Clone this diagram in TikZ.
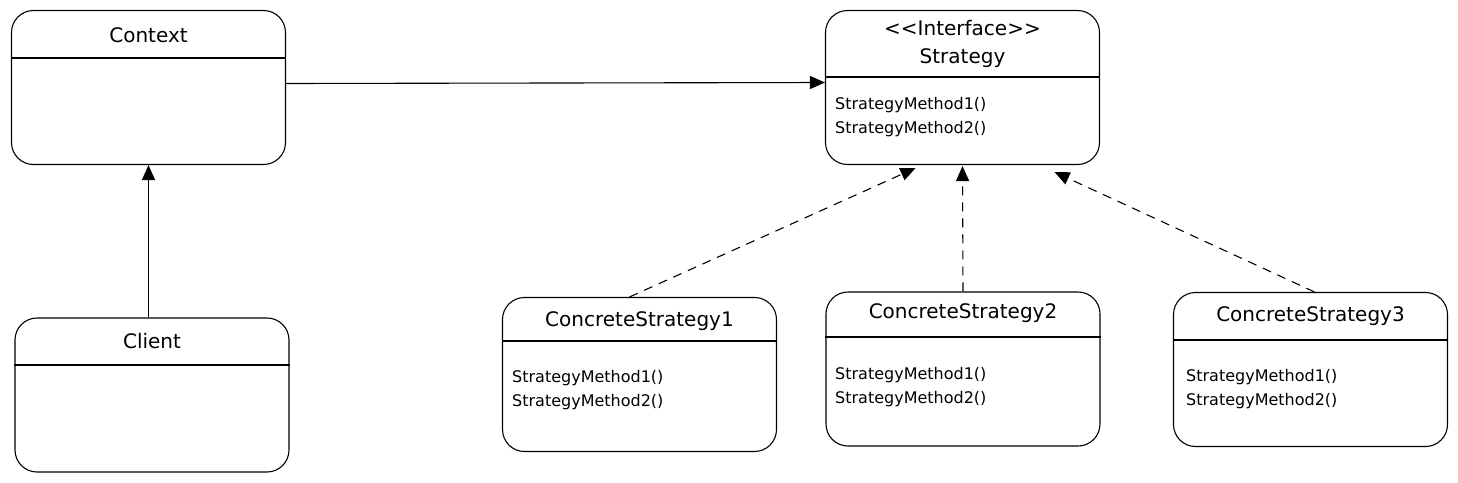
\documentclass[tikz,border=0pt]{standalone}
\usepackage{fontspec}
\setmainfont{DejaVu Sans}
\usetikzlibrary{arrows.meta,positioning}

\tikzset{
  classbox/.style={draw, line width=1.1pt, rounded corners=22pt, inner sep=0pt,
    minimum width=274pt, minimum height=154pt},
  divider/.style={line width=1.1pt},
  classname/.style={font=\fontsize{20}{28}\selectfont, align=center, inner sep=0pt},
  methods/.style={font=\fontsize{16}{24}\selectfont, align=left, inner sep=0pt, anchor=west},
  assoc/.style={line width=1.1pt, -{Triangle[length=15pt,width=13pt]}},
  realize/.style={line width=1.1pt, dash pattern=on 9pt off 7pt, -{Triangle[length=15pt,width=13pt]}}
}

\begin{document}
\begin{tikzpicture}[x=1pt, y=-1pt]
    \useasboundingbox (0,0) rectangle (1458,482);

    % Boxes
    \node[classbox] (ctx) at (148.5,87.5) {};
    \node[classbox] (client) at (152,395) {};
    \node[classbox] (strat) at (962.5,87.5) {};
    \node[classbox] (cs1) at (639.5,374.5) {};
    \node[classbox] (cs2) at (963,369) {};
    \node[classbox] (cs3) at (1310.5,369.5) {};

    % Dividers
    \draw[divider] (ctx.west |- 0,58) -- (ctx.east |- 0,58);
    \draw[divider] (client.west |- 0,365) -- (client.east |- 0,365);
    \draw[divider] (strat.west |- 0,77) -- (strat.east |- 0,77);
    \draw[divider] (cs1.west |- 0,341) -- (cs1.east |- 0,341);
    \draw[divider] (cs2.west |- 0,337) -- (cs2.east |- 0,337);
    \draw[divider] (cs3.west |- 0,340) -- (cs3.east |- 0,340);

    % Names
    \node[classname] (ctxname) at (148.5,35) {Context};
    \node[classname] (clientname) at (152,341) {Client};
    \node[classname] (stratname) at (962.5,44) {{<}{<}Interface{>}{>}\\Strategy};
    \node[classname] (cs1name) at (639.5,321) {ConcreteStrategy1};
    \node[classname] (cs2name) at (963,313) {ConcreteStrategy2};
    \node[classname] (cs3name) at (1310.5,316) {ConcreteStrategy3};

    % Methods
    \node[methods] (stratm) at (835,117) {StrategyMethod1()\\StrategyMethod2()};
    \node[methods] (cs1m) at (512,390) {StrategyMethod1()\\StrategyMethod2()};
    \node[methods] (cs2m) at (835,387) {StrategyMethod1()\\StrategyMethod2()};
    \node[methods] (cs3m) at (1186,389) {StrategyMethod1()\\StrategyMethod2()};

    % Connectors
    \draw[assoc] ([yshift=4pt]ctx.east) -- ([yshift=5pt]strat.west);
    \draw[assoc] (ctx.south |- client.north) -- (ctx.south);
    \draw[realize] ([xshift=-10pt]cs1.north) -- ([xshift=-47pt,yshift=-3pt]strat.south);
    \draw[realize] (cs2.north) -- ([yshift=-1pt]strat.south);
    \draw[realize] ([xshift=4pt]cs3.north) -- ([xshift=92pt,yshift=-7pt]strat.south);
\end{tikzpicture}
\end{document}
